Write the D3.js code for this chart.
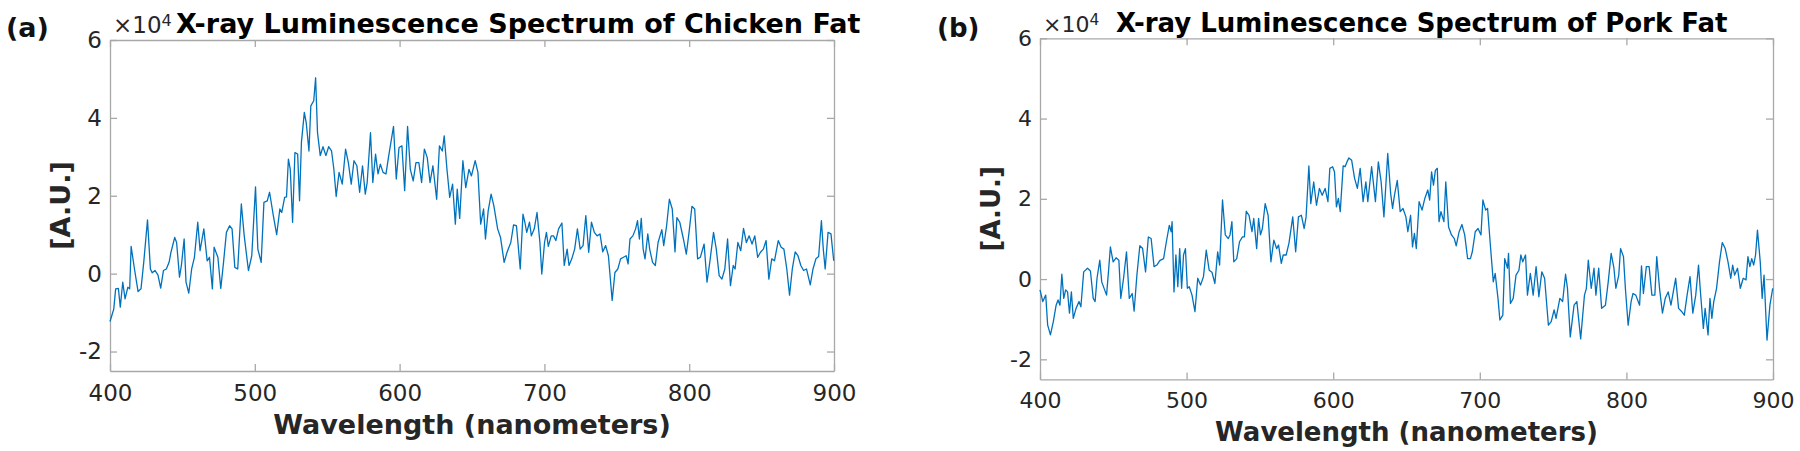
<!DOCTYPE html>
<html>
<head>
<meta charset="utf-8">
<script src="https://cdn.jsdelivr.net/npm/d3@7"></script>
<style>
  body { margin: 0; background: #fff; }
  text { font-family: "DejaVu Sans", sans-serif; }
</style>
</head>
<body>
<script>
// wavelength ticks and intensity ticks (x 10^4)
const xTicks = [400, 500, 600, 700, 800, 900];
const yTicks = [-2, 0, 2, 4, 6];

// [wavelength nm, intensity x10^4]
const chickenFat = [
  [400.0,-1.23],[402.6,-0.91],[403.9,-0.39],[405.8,-0.38],[407.1,-0.86],[408.8,-0.22],[410.4,-0.65],[412.3,-0.35],[413.6,-0.39],[414.6,0.70],
  [416.9,0.12],[419.4,-0.46],[421.4,-0.39],[423.3,0.29],[425.9,1.38],[427.9,0.12],[429.2,0.02],[431.1,0.08],[433.1,-0.03],[435.0,-0.37],
  [436.9,0.08],[438.9,0.12],[440.8,0.29],[442.1,0.55],[444.7,0.93],[446.0,0.80],[448.0,-0.09],[449.3,0.21],[451.2,0.89],[452.5,-0.22],
  [454.4,-0.50],[456.4,0.12],[458.3,0.42],[460.6,1.32],[462.2,0.59],[464.8,1.15],[467.1,0.33],[468.7,0.42],[470.7,-0.39],[471.9,0.68],
  [474.5,0.42],[476.5,-0.38],[478.4,0.29],[480.4,1.06],[482.6,1.23],[484.3,1.15],[486.2,0.16],[488.2,0.12],[490.7,1.79],[492.7,0.97],
  [495.6,0.08],[497.9,0.46],[500.5,2.23],[502.1,0.63],[504.4,0.29],[506.3,1.83],[508.6,1.87],[510.2,2.09],[512.8,1.49],[515.1,1.00],
  [517.3,1.66],[518.6,1.57],[520.6,1.96],[521.9,1.97],[523.2,2.94],[524.5,2.68],[526.1,1.32],[527.7,3.11],[529.6,3.07],[530.9,1.87],
  [532.2,3.37],[534.2,4.14],[535.5,3.88],[537.4,3.15],[538.7,4.31],[540.7,4.44],[542.0,5.03],[543.3,3.62],[545.2,3.03],[547.1,3.26],
  [549.1,3.03],[551.0,3.26],[553.0,3.15],[554.6,2.68],[556.2,1.98],[558.2,2.60],[560.4,2.30],[562.7,3.20],[564.6,2.85],[566.6,2.30],
  [568.5,2.90],[570.5,2.77],[572.4,2.09],[574.4,2.77],[576.3,2.04],[577.6,2.34],[579.9,3.62],[581.5,2.34],[583.4,3.07],[585.1,2.56],
  [586.7,2.81],[588.6,2.60],[590.6,2.56],[592.5,3.03],[595.8,3.78],[597.7,2.43],[599.6,3.24],[601.6,3.28],[603.5,2.13],[605.5,3.78],
  [607.4,2.68],[609.4,2.38],[611.3,2.85],[613.3,2.85],[615.2,2.34],[617.1,3.20],[619.1,2.98],[621.0,2.34],[623.0,2.77],[625.6,1.91],
  [627.5,3.28],[629.5,3.15],[630.8,3.54],[632.7,2.68],[634.6,1.96],[636.6,2.30],[638.5,1.27],[639.8,2.17],[641.5,1.42],[643.7,2.90],
  [645.7,2.21],[647.9,2.68],[649.6,2.51],[652.2,2.90],[654.1,2.60],[656.0,1.27],[658.0,1.66],[659.3,0.89],[661.2,1.62],[663.2,2.04],
  [665.1,1.74],[667.7,1.15],[669.7,0.93],[672.2,0.29],[674.2,0.55],[676.8,0.80],[678.7,1.25],[680.7,1.23],[683.3,0.12],[685.2,1.53],
  [686.5,1.32],[687.8,1.06],[689.7,1.32],[691.0,0.97],[693.0,1.15],[694.9,1.57],[696.9,0.80],[698.2,-0.01],[700.1,0.80],[701.4,1.06],
  [702.7,0.70],[704.7,0.97],[706.3,0.97],[707.9,0.85],[709.8,1.15],[712.1,1.30],[713.7,0.21],[715.7,0.63],[717.0,0.21],[718.9,0.38],
  [720.9,0.63],[722.8,1.15],[724.7,0.63],[726.7,0.72],[728.6,1.49],[730.6,0.55],[732.5,1.32],[734.5,1.06],[736.4,0.97],[738.4,1.02],
  [740.3,0.56],[742.3,0.72],[744.2,0.46],[746.8,-0.69],[748.7,0.03],[750.7,0.12],[752.6,0.38],[754.6,0.42],[756.5,0.46],[757.8,0.25],
  [759.1,0.89],[761.1,0.97],[763.0,1.15],[764.3,1.36],[765.6,0.89],[766.9,1.42],[768.2,0.63],[769.5,0.38],[771.4,1.02],[772.7,0.63],
  [774.7,0.29],[776.6,0.21],[778.5,0.80],[781.1,1.13],[782.4,0.72],[784.4,1.23],[786.3,1.91],[788.3,1.66],[790.2,0.56],[791.5,1.44],
  [793.5,1.32],[796.0,0.89],[798.0,0.50],[799.9,1.06],[801.9,1.73],[803.8,1.66],[805.8,0.38],[807.7,0.42],[810.3,0.76],[812.3,-0.22],
  [814.2,0.29],[816.8,1.06],[818.7,0.63],[820.7,-0.05],[822.6,-0.14],[824.6,0.12],[826.5,0.89],[828.5,-0.31],[830.4,0.21],[831.7,0.12],
  [833.6,0.80],[835.6,0.59],[837.5,1.16],[839.5,0.80],[841.4,0.97],[843.4,0.76],[845.3,0.97],[847.3,0.42],[849.2,0.55],[851.2,0.63],
  [853.1,0.85],[855.0,-0.14],[857.0,0.38],[858.9,0.33],[861.5,0.85],[863.5,0.68],[865.4,0.63],[867.4,0.12],[869.3,-0.55],[871.2,0.12],
  [873.2,0.56],[875.1,0.46],[877.1,0.21],[879.0,0.08],[881.0,0.12],[883.6,-0.29],[885.5,0.12],[887.5,0.38],[889.4,0.44],[891.3,1.36],
  [892.6,0.63],[893.9,0.12],[895.9,1.06],[897.9,1.02],[899.8,0.33]
];

const porkFat = [
  [400.0,-0.27],[401.9,-0.56],[403.9,-0.40],[405.2,-1.14],[407.1,-1.39],[409.1,-1.06],[411.0,-0.65],[412.3,-0.52],[413.6,-0.65],[414.9,0.12],
  [416.2,-0.48],[417.5,-0.27],[418.8,-0.32],[420.1,-0.85],[421.4,-0.32],[422.7,-0.98],[424.6,-0.73],[426.6,-0.56],[427.9,-0.69],[429.8,0.18],
  [432.4,0.27],[434.4,0.20],[436.3,-0.48],[437.6,-0.56],[438.9,0.02],[440.8,0.47],[442.1,-0.07],[445.4,-0.40],[446.7,0.18],[448.0,0.80],
  [449.9,0.43],[451.9,0.53],[453.8,0.47],[455.1,-0.48],[457.0,0.02],[459.0,0.68],[460.9,-0.48],[462.9,-0.36],[464.2,-0.80],[466.1,0.10],
  [468.1,0.83],[470.0,0.76],[472.0,0.18],[473.9,1.05],[475.8,1.01],[477.8,0.31],[479.7,0.35],[481.7,0.46],[484.3,0.51],[486.2,0.93],
  [488.2,1.34],[489.5,1.18],[490.1,1.43],[491.4,-0.32],[492.7,0.60],[494.0,-0.19],[495.3,0.76],[496.6,-0.23],[497.9,0.60],[499.2,0.76],
  [500.5,-0.23],[501.8,-0.19],[503.7,-0.40],[505.7,-0.81],[507.6,0.02],[509.5,-0.15],[511.5,0.06],[513.4,0.72],[515.4,0.22],[517.3,0.17],
  [519.3,-0.11],[521.2,0.68],[522.5,0.35],[524.5,1.97],[526.4,1.10],[528.4,1.01],[529.6,1.10],[530.9,1.43],[532.2,0.43],[534.2,0.51],
  [536.1,0.93],[538.1,1.05],[539.4,1.05],[540.7,1.69],[542.6,1.59],[544.6,1.18],[545.8,1.51],[547.8,0.76],[549.1,1.51],[550.4,1.10],
  [551.7,1.26],[553.6,1.88],[555.6,1.59],[557.5,0.43],[559.5,0.97],[561.4,0.76],[562.7,0.85],[564.6,0.39],[565.9,0.60],[567.9,0.60],
  [569.8,0.89],[572.4,1.55],[574.4,0.68],[576.3,1.55],[578.3,1.59],[580.2,1.26],[581.5,1.55],[583.4,2.82],[584.7,1.88],[586.7,2.42],
  [588.6,1.84],[590.6,2.26],[592.5,2.09],[594.5,2.26],[596.4,1.93],[597.7,2.76],[599.6,2.80],[600.9,2.67],[602.2,1.80],[603.5,2.01],
  [604.8,1.68],[606.8,2.82],[608.1,2.80],[609.4,2.92],[610.7,3.02],[612.6,2.96],[614.6,2.51],[616.5,2.26],[618.4,2.76],[620.4,1.93],
  [622.3,2.42],[623.6,1.93],[626.2,2.80],[628.8,1.93],[630.8,2.92],[632.7,2.42],[634.6,1.55],[637.2,3.13],[639.2,2.13],[640.5,1.76],
  [641.8,2.09],[643.7,2.46],[645.7,1.68],[647.6,1.76],[649.6,1.55],[650.9,1.18],[652.8,1.59],[654.1,0.80],[655.4,1.14],[656.7,0.76],
  [658.6,1.93],[660.6,1.72],[662.5,2.01],[664.5,2.22],[665.8,1.97],[667.1,2.67],[668.4,2.34],[669.7,2.71],[671.0,2.76],[672.2,1.43],
  [673.5,1.68],[675.5,1.43],[676.8,2.42],[678.7,1.30],[680.7,1.10],[682.6,1.01],[683.9,0.83],[685.9,1.18],[687.8,1.36],[689.7,1.10],
  [691.7,0.51],[693.6,0.51],[694.9,0.68],[696.9,1.18],[698.8,1.26],[700.8,1.10],[702.1,1.97],[704.0,1.72],[705.3,1.76],[707.2,0.85],
  [709.2,-0.07],[710.5,0.14],[712.4,-0.48],[713.7,-1.02],[715.7,-0.90],[717.0,0.51],[718.9,0.27],[719.6,0.64],[720.9,-0.61],[722.8,-0.48],
  [724.7,0.10],[726.7,0.22],[728.0,0.60],[729.3,0.43],[731.2,0.60],[732.5,-0.40],[734.5,0.14],[736.4,-0.40],[738.4,0.31],[740.3,-0.44],
  [742.3,0.18],[744.2,0.02],[746.8,-1.15],[748.7,-1.06],[750.7,-0.77],[752.0,-0.98],[754.6,-0.48],[756.5,-0.56],[758.5,0.12],[759.8,-0.23],
  [761.7,-1.44],[764.3,-0.65],[766.2,-0.56],[768.8,-1.49],[771.4,-0.40],[772.7,-0.23],[774.0,0.47],[776.0,-0.23],[777.9,0.27],[779.2,-0.40],
  [781.1,0.27],[783.1,-0.73],[785.7,-0.65],[787.6,-0.07],[789.6,0.64],[791.5,0.27],[792.8,-0.23],[794.8,0.10],[796.0,0.76],[798.0,0.56],
  [799.3,-0.23],[801.2,-1.15],[803.2,-0.56],[804.5,-0.36],[806.4,-0.40],[809.0,-0.65],[810.3,0.33],[811.6,-0.36],[813.6,0.31],[815.5,0.31],
  [817.4,-0.40],[819.4,-0.40],[820.7,0.56],[822.6,-0.23],[824.6,-0.85],[826.5,-0.48],[828.5,-0.32],[830.4,-0.65],[832.4,-0.23],[833.6,0.02],
  [835.6,-0.73],[837.5,-0.80],[839.5,-0.90],[841.4,-0.40],[843.4,0.06],[845.3,-0.85],[847.3,-0.40],[849.2,0.35],[850.5,-0.32],[852.5,-1.23],
  [853.7,-0.73],[855.7,-1.39],[857.0,-0.48],[858.3,-0.98],[859.6,-0.56],[861.5,-0.23],[863.5,0.43],[865.4,0.91],[867.4,0.76],[869.3,0.43],
  [871.2,0.02],[872.5,0.35],[873.8,0.10],[875.8,0.27],[877.7,-0.23],[879.7,0.02],[881.6,-0.02],[882.9,0.56],[884.2,0.31],[885.5,0.51],
  [886.8,0.35],[888.1,0.60],[889.4,1.22],[891.3,0.43],[892.6,-0.48],[893.9,0.10],[895.9,-1.52],[897.9,-0.65],[899.8,-0.23]
];

const titles = ["X-ray Luminescence Spectrum of Chicken Fat", "X-ray Luminescence Spectrum of Pork Fat"];
const panelTags = ["(a)", "(b)"];

const svg = d3.select("body").append("svg")
  .attr("width", 1800)
  .attr("height", 451);

function drawPanel(serie, idx, box) {
  const x = d3.scaleLinear().domain([400, 900]).range([box.left, box.right]);
  const y = d3.scaleLinear().domain([-2.5, 6]).range([box.bottom, box.top]);
  const g = svg.append("g");

  const estilo = sel => {
    sel.select(".domain").attr("stroke", "#a8a8a8").attr("stroke-width", 1.3);
    sel.selectAll(".tick line").attr("stroke", "#a8a8a8").attr("stroke-width", 1.3);
    sel.selectAll(".tick text").attr("fill", "#262626")
      .style("font-size", box.tick + "px").style("font-family", "DejaVu Sans");
  };

  // hifen simples, como no original
  const simples = d => String(d);

  // eixo de baixo e esquerdo com rotulos, topo e direita so tracos
  g.append("g").attr("transform", `translate(0,${box.bottom})`)
    .call(d3.axisBottom(x).tickValues(xTicks).tickFormat(simples).tickSizeInner(-7).tickSizeOuter(0).tickPadding(box.xPad))
    .call(estilo);
  g.append("g").attr("transform", `translate(${box.left},0)`)
    .call(d3.axisLeft(y).tickValues(yTicks).tickFormat(simples).tickSizeInner(-7).tickSizeOuter(0).tickPadding(8))
    .call(estilo);
  g.append("g").attr("transform", `translate(0,${box.top})`)
    .call(d3.axisTop(x).tickValues(xTicks).tickSizeInner(-7).tickSizeOuter(0).tickFormat(""))
    .call(estilo);
  g.append("g").attr("transform", `translate(${box.right},0)`)
    .call(d3.axisRight(y).tickValues(yTicks).tickSizeInner(-7).tickSizeOuter(0).tickFormat(""))
    .call(estilo);

  g.append("path")
    .datum(serie)
    .attr("fill", "none")
    .attr("stroke", "#0072BD")
    .attr("stroke-width", 1.3)
    .attr("stroke-linejoin", "round")
    .attr("d", d3.line().x(d => x(d[0])).y(d => y(d[1])));

  const mult = g.append("text")
    .attr("x", box.left + 3).attr("y", box.titleY)
    .attr("fill", "#262626")
    .style("font-size", box.tick + "px")
    .text("×10");
  mult.append("tspan").attr("dy", "-0.45em").style("font-size", (box.tick * 0.7) + "px").text("4");

  g.append("text")
    .attr("x", box.titleX).attr("y", box.titleY)
    .attr("fill", "#000")
    .style("font-size", box.big + "px").style("font-weight", "bold")
    .text(titles[idx]);

  g.append("text")
    .attr("x", box.tagX).attr("y", box.tagY)
    .attr("fill", "#111")
    .style("font-size", box.big + "px").style("font-weight", "bold")
    .text(panelTags[idx]);

  g.append("text")
    .attr("x", (box.left + box.right) / 2).attr("y", box.xlabY)
    .attr("text-anchor", "middle")
    .attr("fill", "#262626")
    .style("font-size", box.big + "px").style("font-weight", "bold")
    .text("Wavelength (nanometers)");

  g.append("text")
    .attr("transform", `translate(${box.left - 40},${(box.top + box.bottom) / 2}) rotate(-90)`)
    .attr("text-anchor", "middle")
    .attr("fill", "#262626")
    .style("font-size", box.big + "px").style("font-weight", "bold")
    .text("[A.U.]");
}

drawPanel(chickenFat, 0, {
  left: 110, right: 834, top: 40, bottom: 371,
  tick: 23, big: 27, xPad: 14, titleX: 176, titleY: 33, tagX: 6, tagY: 37, xlabY: 434
});
drawPanel(porkFat, 1, {
  left: 1040, right: 1773, top: 38.3, bottom: 379.4,
  tick: 22, big: 26, xPad: 13, titleX: 1116, titleY: 32, tagX: 937, tagY: 37, xlabY: 441
});
</script>
</body>
</html>
